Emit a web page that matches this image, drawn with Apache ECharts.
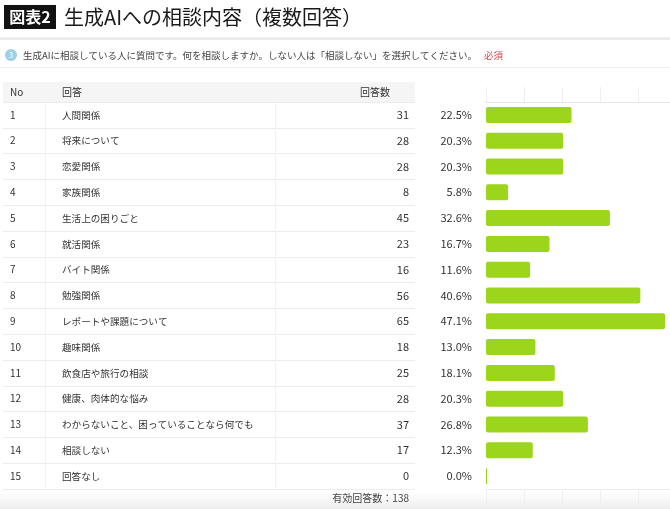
<!DOCTYPE html>
<html>
<head>
<meta charset="utf-8">
<script src="https://cdn.jsdelivr.net/npm/echarts@6/dist/echarts.min.js"></script>
<style>
  html, body { margin: 0; padding: 0; background: #fff; }
  #chart { width: 670px; height: 509px; }
</style>
</head>
<body>
<div id="chart"></div>
<script>
// table data
const rowNos = ['1', '2', '3', '4', '5', '6', '7', '8', '9', '10', '11', '12', '13', '14', '15'];
const answers = [
	'人間関係', '将来について', '恋愛関係', '家族関係', '生活上の困りごと',
	'就活関係', 'バイト関係', '勉強関係', 'レポートや課題について', '趣味関係',
	'飲食店や旅行の相談', '健康、肉体的な悩み', 'わからないこと、困っていることなら何でも',
	'相談しない', '回答なし'
];
const counts = [31, 28, 28, 8, 45, 23, 16, 56, 65, 18, 25, 28, 37, 17, 0];
const percents = [22.5, 20.3, 20.3, 5.8, 32.6, 16.7, 11.6, 40.6, 47.1, 13.0, 18.1, 20.3, 26.8, 12.3, 0.0];
const totalAnswers = 138;

const FONT = '"Noto Sans CJK JP", "Noto Sans", sans-serif';
const TXT = '#333';
const LINE = '#ececec';

const chart = echarts.init(document.getElementById('chart'));

/* ---------- grids: 0 = bars, 1 = table ---------- */
const gridTop = 102;
const gridBottom = 20;
const pctMax = 48.4; // visible part of the 0-50% scale

const option = {
	animation: false,
	textStyle: { fontFamily: FONT },
	grid: [
		{ left: 486, right: 0, top: gridTop, bottom: gridBottom, containLabel: false },
		{ left: 3, right: 255, top: gridTop, bottom: gridBottom, containLabel: false }
	],
	xAxis: [
		{
			gridIndex: 0, type: 'value', position: 'top',
			min: 0, max: pctMax, interval: 10,
			axisLine: { show: true, lineStyle: { color: '#e6e6e6', width: 1 } },
			axisTick: { show: true, length: 15, lineStyle: { color: '#efefef' } },
			axisLabel: { show: false },
			splitLine: { show: false }
		},
		{
			gridIndex: 0, type: 'value', position: 'bottom',
			min: 0, max: pctMax, interval: 10,
			axisLine: { show: true, lineStyle: { color: '#ebebeb', width: 1 } },
			axisTick: { show: true, length: 20, lineStyle: { color: '#efefef' } },
			axisLabel: { show: false },
			splitLine: { show: false }
		},
		{
			gridIndex: 1, type: 'value', min: 0, max: 1, show: false
		}
	],
	yAxis: [
		// percent labels beside the bars
		{
			gridIndex: 0, type: 'category', inverse: true, data: percents,
			axisLine: { show: false }, axisTick: { show: false },
			axisLabel: {
				margin: 14, color: TXT, fontSize: 11, fontFamily: FONT,
				formatter: v => Number(v).toFixed(1) + '%'
			}
		},
		// No column
		{
			gridIndex: 1, type: 'category', inverse: true, data: rowNos,
			position: 'left', offset: 0,
			axisLine: { show: false }, axisTick: { show: false },
			axisLabel: { inside: true, margin: 7, color: TXT, fontSize: 10, fontFamily: FONT },
			splitLine: { show: true, lineStyle: { color: LINE, width: 1 } }
		},
		// answer column
		{
			gridIndex: 1, type: 'category', inverse: true, data: answers,
			position: 'left', offset: -42,
			axisLine: { show: true, lineStyle: { color: '#f2f2f2' } }, axisTick: { show: false },
			axisLabel: { inside: true, margin: 17, color: TXT, fontSize: 9.6, fontFamily: FONT }
		},
		// count column
		{
			gridIndex: 1, type: 'category', inverse: true, data: counts,
			position: 'right', offset: 0,
			axisLine: { show: false }, axisTick: { show: false },
			axisLabel: { inside: true, margin: 6, color: TXT, fontSize: 11, fontFamily: FONT }
		},
		// divider before count column
		{
			gridIndex: 1, type: 'category', inverse: true, data: rowNos,
			position: 'right', offset: -140,
			axisLine: { show: true, lineStyle: { color: '#f2f2f2' } },
			axisTick: { show: false }, axisLabel: { show: false }
		}
	],
	series: [
		{
			type: 'bar',
			xAxisIndex: 0,
			yAxisIndex: 0,
			data: percents,
			barWidth: 16,
			barMinHeight: 1,
			itemStyle: { color: '#9bd51c', borderRadius: 2 },
			silent: true
		}
	],
	graphic: [
		// title
		{ type: 'rect', left: 4, top: 5, shape: { width: 52, height: 24 }, style: { fill: '#111' } },
		{ type: 'text', x: 30, y: 17, style: { text: '図表2', fill: '#fff', font: 'bold 16px ' + FONT, align: 'center', verticalAlign: 'middle' } },
		{ type: 'text', x: 64, y: 17, style: { text: '生成AIへの相談内容（複数回答）', fill: '#1a1a1a', font: 'normal 20px ' + FONT, verticalAlign: 'middle' } },
		{ type: 'rect', left: 0, top: 37, shape: { width: 670, height: 3 }, style: { fill: '#ebebeb' } },

		// question line
		{ type: 'circle', shape: { cx: 11, cy: 55, r: 6 }, style: { fill: '#9ccfe8' } },
		{ type: 'text', x: 11, y: 55, style: { text: '3', fill: '#fff', font: '8px ' + FONT, align: 'center', verticalAlign: 'middle' } },
		{ type: 'text', x: 23, y: 55, style: { text: '生成AIに相談している人に質問です。何を相談しますか。しない人は「相談しない」を選択してください。', fill: '#444', font: '9.5px ' + FONT, verticalAlign: 'middle' } },
		{ type: 'text', x: 484, y: 55, style: { text: '必須', fill: '#c8474a', font: '9.5px ' + FONT, verticalAlign: 'middle' } },
		{ type: 'rect', left: 0, top: 67, shape: { width: 670, height: 1 }, style: { fill: '#f0f0f0' } },

		// table header
		{ type: 'rect', left: 3, top: 82, shape: { width: 412, height: 20 }, style: { fill: '#f5f5f5' }, z: -1 },
		{ type: 'text', x: 10, y: 92, style: { text: 'No', fill: TXT, font: '10px ' + FONT, verticalAlign: 'middle' } },
		{ type: 'text', x: 62, y: 92, style: { text: '回答', fill: TXT, font: '10px ' + FONT, verticalAlign: 'middle' } },
		{ type: 'text', x: 360, y: 92, style: { text: '回答数', fill: TXT, font: '10px ' + FONT, verticalAlign: 'middle' } },

		// footer
		{ type: 'rect', left: 0, top: 492, shape: { width: 670, height: 17 }, z: -2,
			style: { fill: new echarts.graphic.LinearGradient(0, 0, 0, 1, [
				{ offset: 0, color: 'rgba(0,0,0,0)' },
				{ offset: 1, color: 'rgba(0,0,0,0.07)' }
			]) } },
		{ type: 'text', x: 409, y: 498, style: { text: '有効回答数：' + totalAnswers, fill: '#444', font: '10px ' + FONT, align: 'right', verticalAlign: 'middle' } }
	]
};

chart.setOption(option);

window.addEventListener('resize', function () {
	chart.resize();
});
</script>
</body>
</html>
